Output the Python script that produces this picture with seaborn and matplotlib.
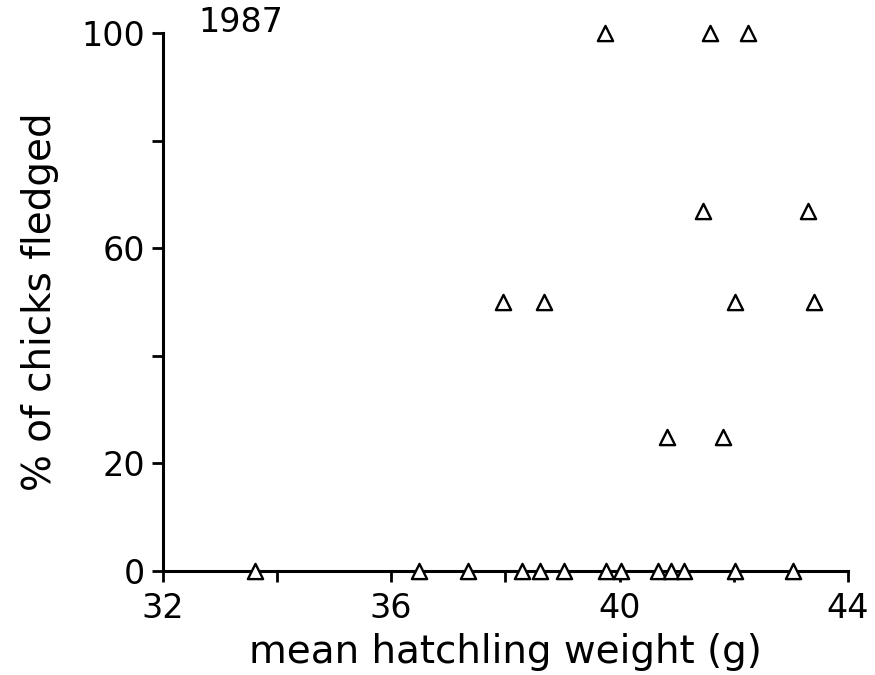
import matplotlib
matplotlib.use("Agg")
import matplotlib.pyplot as plt
import seaborn as sns
import pandas as pd

# data
weight_g = [39.74, 41.58, 42.25,
            41.46, 43.30,
            37.96, 38.68, 42.02, 43.40,
            40.84, 41.81,
            33.61, 36.48, 37.34, 38.30, 38.61, 39.02, 39.77, 40.03,
            40.67, 40.91, 41.13, 42.02, 43.04]
pct_fledged = [100, 100, 100,
               67, 67,
               50, 50, 50, 50,
               25, 25,
               0, 0, 0, 0, 0, 0, 0, 0,
               0, 0, 0, 0, 0]
x_ticks = [32, 34, 36, 38, 40, 42, 44]
x_tick_labels = ["32", "", "36", "", "40", "", "44"]
y_ticks = [0, 20, 40, 60, 80, 100]
y_tick_labels = ["0", "20", "", "60", "", "100"]

df = pd.DataFrame({"w": weight_g, "p": pct_fledged})

sns.set_style("ticks")
plt.rcParams['font.family'] = ['DejaVu Sans']
plt.rcParams['text.color'] = 'black'
plt.rcParams['axes.labelcolor'] = 'black'

fig = plt.figure(figsize=(8.75, 6.75), dpi=100)
ax = fig.add_axes([0.186, 0.154, 0.783, 0.797])

sns.scatterplot(data=df, x="w", y="p", marker="^", s=120,
                facecolor="white", edgecolor="black", linewidth=1.7,
                ax=ax, clip_on=False, zorder=5)

ax.set_xlim(32, 44)
ax.set_ylim(0, 100)
ax.set_xticks(x_ticks)
ax.set_xticklabels(x_tick_labels)
ax.set_yticks(y_ticks)
ax.set_yticklabels(y_tick_labels)
ax.tick_params(axis="both", direction="out", length=8, width=2,
               labelsize=24, colors="black", pad=5)
ax.tick_params(axis="x", pad=7)
for sp in ["top", "right"]:
    ax.spines[sp].set_visible(False)
for sp in ["left", "bottom"]:
    ax.spines[sp].set_linewidth(2.2)
    ax.spines[sp].set_color("black")

ax.set_xlabel("mean hatchling weight (g)", fontsize=28, labelpad=6, color="black")
ax.set_ylabel("% of chicks fledged", fontsize=28, labelpad=16, color="black")
fig.text(0.275, 0.967, "1987", fontsize=24, ha="center", va="center", color="black")

fig.savefig("out.png", dpi=100)
